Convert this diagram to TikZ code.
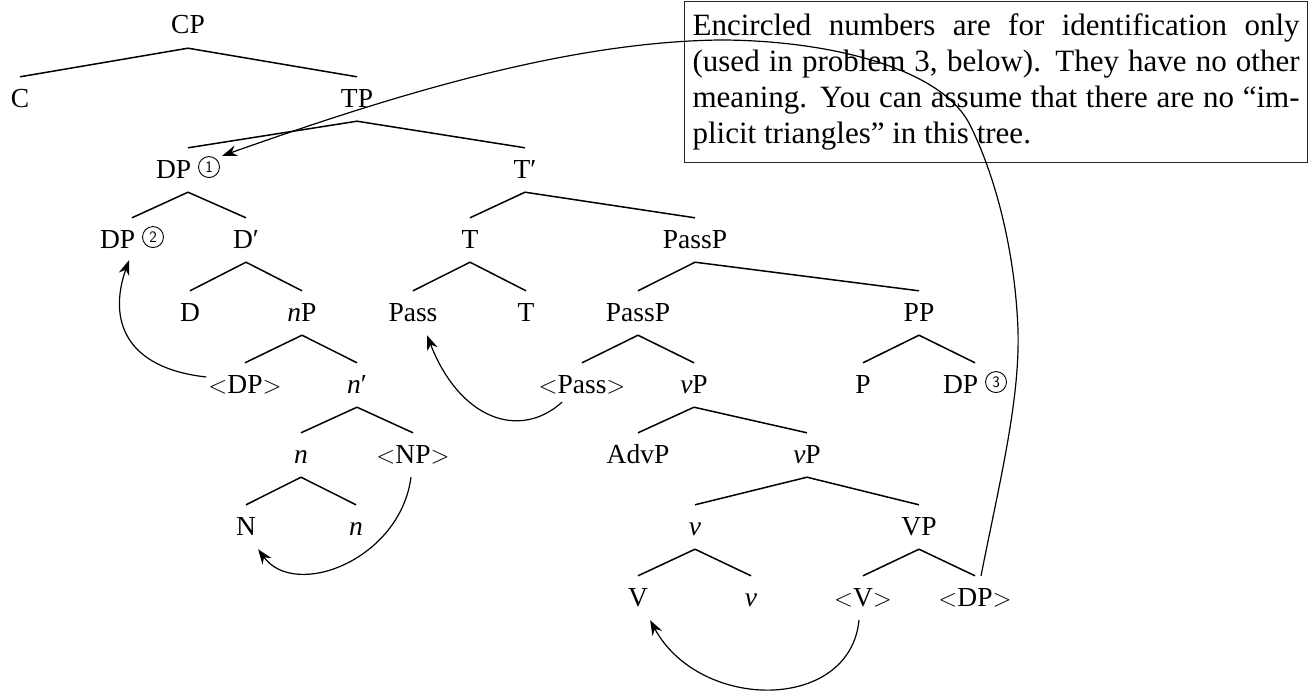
\documentclass[tikz,border=0pt]{standalone}
\usepackage{fontspec}
\setmainfont{Liberation Serif}
\usetikzlibrary{arrows.meta}
% encircled identification number, sitting on the baseline
\newcommand{\circnum}[1]{\tikz[baseline=(cn.south)]\node[draw, circle, line width=0.9pt,
  anchor=center, inner sep=0pt, minimum size=21pt, text height=11pt, text depth=0pt,
  font=\fontsize{16pt}{16pt}\selectfont\sffamily] (cn) {#1};}
\newcommand{\trace}[1]{$<$#1$>$}
\begin{document}
\begin{tikzpicture}[x=1pt,y=-1pt,
  lab/.style={anchor=base, font=\fontsize{27.5pt}{32pt}\selectfont,
    inner xsep=2pt, inner ysep=6pt, text height=24pt, text depth=8pt},
  branch/.style={line width=1.5pt},
  move/.style={line width=1.2pt, -{Stealth[length=15pt,width=11pt,inset=5pt]}},
  notebox/.style={draw=black!85, line width=1.2pt, anchor=north west,
    text width=607pt, inner xsep=8pt, inner ysep=12pt, align=justify,
    font=\fontsize{31pt}{36pt}\selectfont},
  ]
\useasboundingbox (0,0) rectangle (1312,696);

% tree labels, placed by baseline
\node[lab] (cp)     at (188,34)  {CP};
\node[lab] (c)      at (20,107)  {C};
\node[lab] (tp)     at (357,107) {TP};
\node[lab] (dp1)    at (188,178) {DP \circnum{1}};
\node[lab] (tbar)   at (525,178) {T′};
\node[lab] (dp2)    at (132,248) {DP \circnum{2}};
\node[lab] (dbar)   at (246,248) {D′};
\node[lab] (t)      at (470,248) {T};
\node[lab] (passp)  at (695,248) {PassP};
\node[lab] (d)      at (190,321) {D};
\node[lab] (np)     at (302,321) {\textit{n}P};
\node[lab] (pass)   at (413,321) {Pass};
\node[lab] (tlow)   at (526,321) {T};
\node[lab] (passpl) at (638,321) {PassP};
\node[lab] (pp)     at (919,321) {PP};
\node[lab] (dptr)   at (245,393) {\trace{DP}};
\node[lab] (nbar)   at (357,393) {\textit{n}′};
\node[lab] (passtr) at (582,393) {\trace{Pass}};
\node[lab] (vp)     at (694,393) {\textit{v}P};
\node[lab] (p)      at (863,393) {P};
\node[lab] (dp3)    at (975,393) {DP \circnum{3}};
\node[lab] (n)      at (301,463) {\textit{n}};
\node[lab] (nptr)   at (413,463) {\trace{NP}};
\node[lab] (advp)   at (638,463) {AdvP};
\node[lab] (vpl)    at (807,463) {\textit{v}P};
\node[lab] (nn)     at (246,535) {N};
\node[lab] (nlow)   at (356,535) {\textit{n}};
\node[lab] (v)      at (695,535) {\textit{v}};
\node[lab] (vpp)    at (919,535) {VP};
\node[lab] (vv)     at (638,606) {V};
\node[lab] (vlow)   at (751,606) {\textit{v}};
\node[lab] (vtr)    at (863,606) {\trace{V}};
\node[lab] (dptrl)  at (975,606) {\trace{DP}};

% branches
\foreach \a/\b in {cp/c, cp/tp, tp/dp1, tp/tbar, dp1/dp2, dp1/dbar,
  tbar/t, tbar/passp, dbar/d, dbar/np, t/pass, t/tlow, passp/passpl, passp/pp,
  np/dptr, np/nbar, passpl/passtr, passpl/vp, pp/p, pp/dp3,
  nbar/n, nbar/nptr, vp/advp, vp/vpl, n/nn, n/nlow, vpl/v, vpl/vpp,
  v/vv, v/vlow, vpp/vtr, vpp/dptrl}
  \draw[branch] (\a.south) -- (\b.north);

% note
\node[notebox] (note) at (684,1) {Encircled numbers are for identification only\linebreak
(used in problem 3, below). They have no other\linebreak
meaning. You can assume that there are no “im-\linebreak
plicit triangles” in this tree.};

% movement arrows
\draw[move] ([yshift=8pt]dptr.west) .. controls (125,368) and (108,320) .. ([xshift=-3pt,yshift=2pt]dp2.south);
\draw[move] ([xshift=-2pt]nptr.south) .. controls (400,560) and (295,600) .. (nn.south east);
\draw[move] ([xshift=-20pt,yshift=5pt]passtr.south) .. controls (520,440) and (460,420) .. ([xshift=14pt]pass.south);
\draw[move] ([xshift=-4pt]vtr.south) .. controls (850,712) and (700,712) .. (vv.south east);
\draw[move] ([xshift=6pt]dptrl.north) .. controls (1000,480) and (1020,400) .. (1018,330)
  .. controls (1015,250) and (995,175) .. (970,125)
  .. controls (940,65) and (820,40) .. (720,40)
  .. controls (560,42) and (380,100) .. ([yshift=-8pt]dp1.north east);
\end{tikzpicture}
\end{document}
